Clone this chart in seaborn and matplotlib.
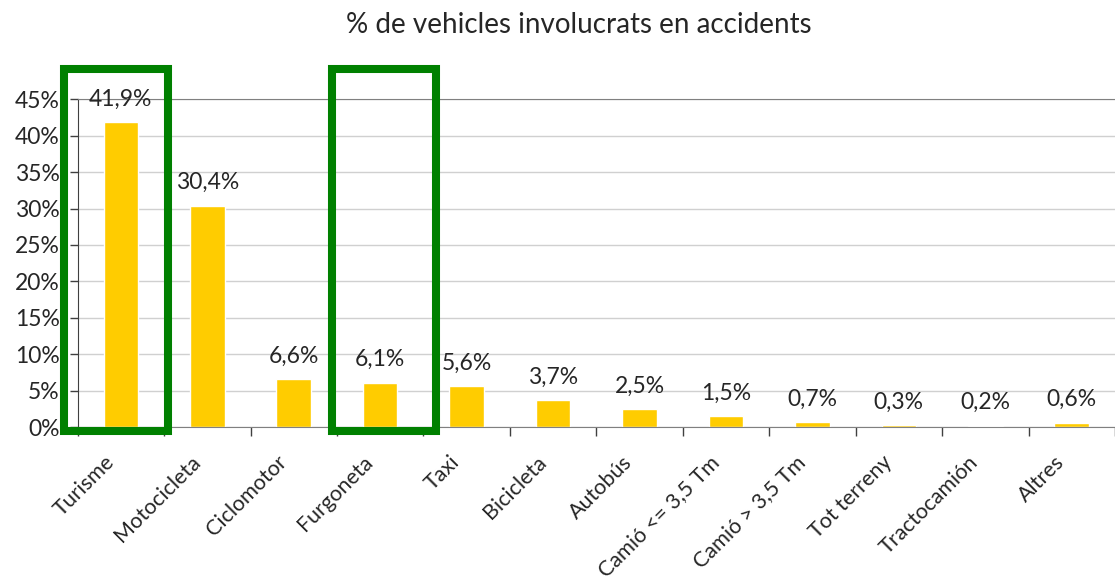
import numpy as np
import pandas as pd
import seaborn as sns
import matplotlib.pyplot as plt
from matplotlib.patches import Rectangle
from matplotlib.transforms import ScaledTranslation

# data
categories = ['Turisme', 'Motocicleta', 'Ciclomotor', 'Furgoneta', 'Taxi', 'Bicicleta',
              'Autobús', 'Camió <= 3,5 Tm', 'Camió > 3,5 Tm', 'Tot terreny',
              'Tractocamión', 'Altres']
pct = [41.9, 30.4, 6.6, 6.1, 5.6, 3.7, 2.5, 1.5, 0.7, 0.3, 0.2, 0.6]
highlighted = ['Turisme', 'Furgoneta']
title = '% de vehicles involucrats en accidents'

df = pd.DataFrame({'cat': categories, 'val': np.array(pct) / 100})

sns.set_style('white')
plt.rcParams['font.family'] = ['Lato', 'DejaVu Sans']

fig = plt.figure(figsize=(11.15, 5.8), dpi=100)
ax = fig.add_axes([77.6 / 1115, 153 / 580, (1115 - 77.6) / 1115, 327.7 / 580])

sns.barplot(data=df, x='cat', y='val', color='#FFCC00', width=0.4, saturation=1, ax=ax)

ax.set_xlim(-0.5, (1115 - 77.6) / 87.8 - 0.5)
ax.set_ylim(0, 0.45)
ax.set_yticks(np.arange(0, 0.451, 0.05))
ax.set_yticklabels([f'{int(round(t * 100))}%' for t in np.arange(0, 0.451, 0.05)], fontsize=16.5)
ax.yaxis.grid(True, color='#d0d0d0', lw=1)
ax.set_axisbelow(True)
ax.set_xlabel('')
ax.set_ylabel('')

ax.spines['right'].set_visible(False)
ax.spines['top'].set_color('#808080')
ax.spines['left'].set_color('#404040')
ax.spines['bottom'].set_color('#808080')

ax.tick_params(axis='y', length=6, width=1, color='#404040', pad=7, left=True)
ax.tick_params(axis='x', which='major', length=0, pad=23, labelsize=15.5)
ax.set_xticks(np.arange(len(categories) + 1) - 0.5, minor=True)
ax.tick_params(axis='x', which='minor', length=6.5, width=1, color='#404040', bottom=True)
ax.set_xticks(range(len(categories)))
ax.set_xticklabels(categories, rotation=45, ha='right', va='center', rotation_mode='anchor')
shift = ScaledTranslation(-10 / 100, 0, fig.dpi_scale_trans)
for lab in ax.get_xticklabels():
    lab.set_transform(lab.get_transform() + shift)

# value labels
for i, v in enumerate(pct):
    ax.annotate(f'{v:.1f}%'.replace('.', ','), (i, v / 100), xytext=(0, 16.5),
                textcoords='offset points', ha='center', va='center', fontsize=16.5)

# green boxes
box_x = {'Turisme': (-0.655, 0.547), 'Furgoneta': (2.445, 3.647)}
for c in highlighted:
    x0, x1 = box_x[c]
    ax.add_patch(Rectangle((x0, -0.0059), x1 - x0, 0.4975, fill=False,
                           edgecolor='#008000', lw=5.8, clip_on=False, zorder=5))

fig.text(579 / 1115, 1 - 25 / 580, title, ha='center', va='center', fontsize=20)

plt.savefig('out.png', dpi=100)
